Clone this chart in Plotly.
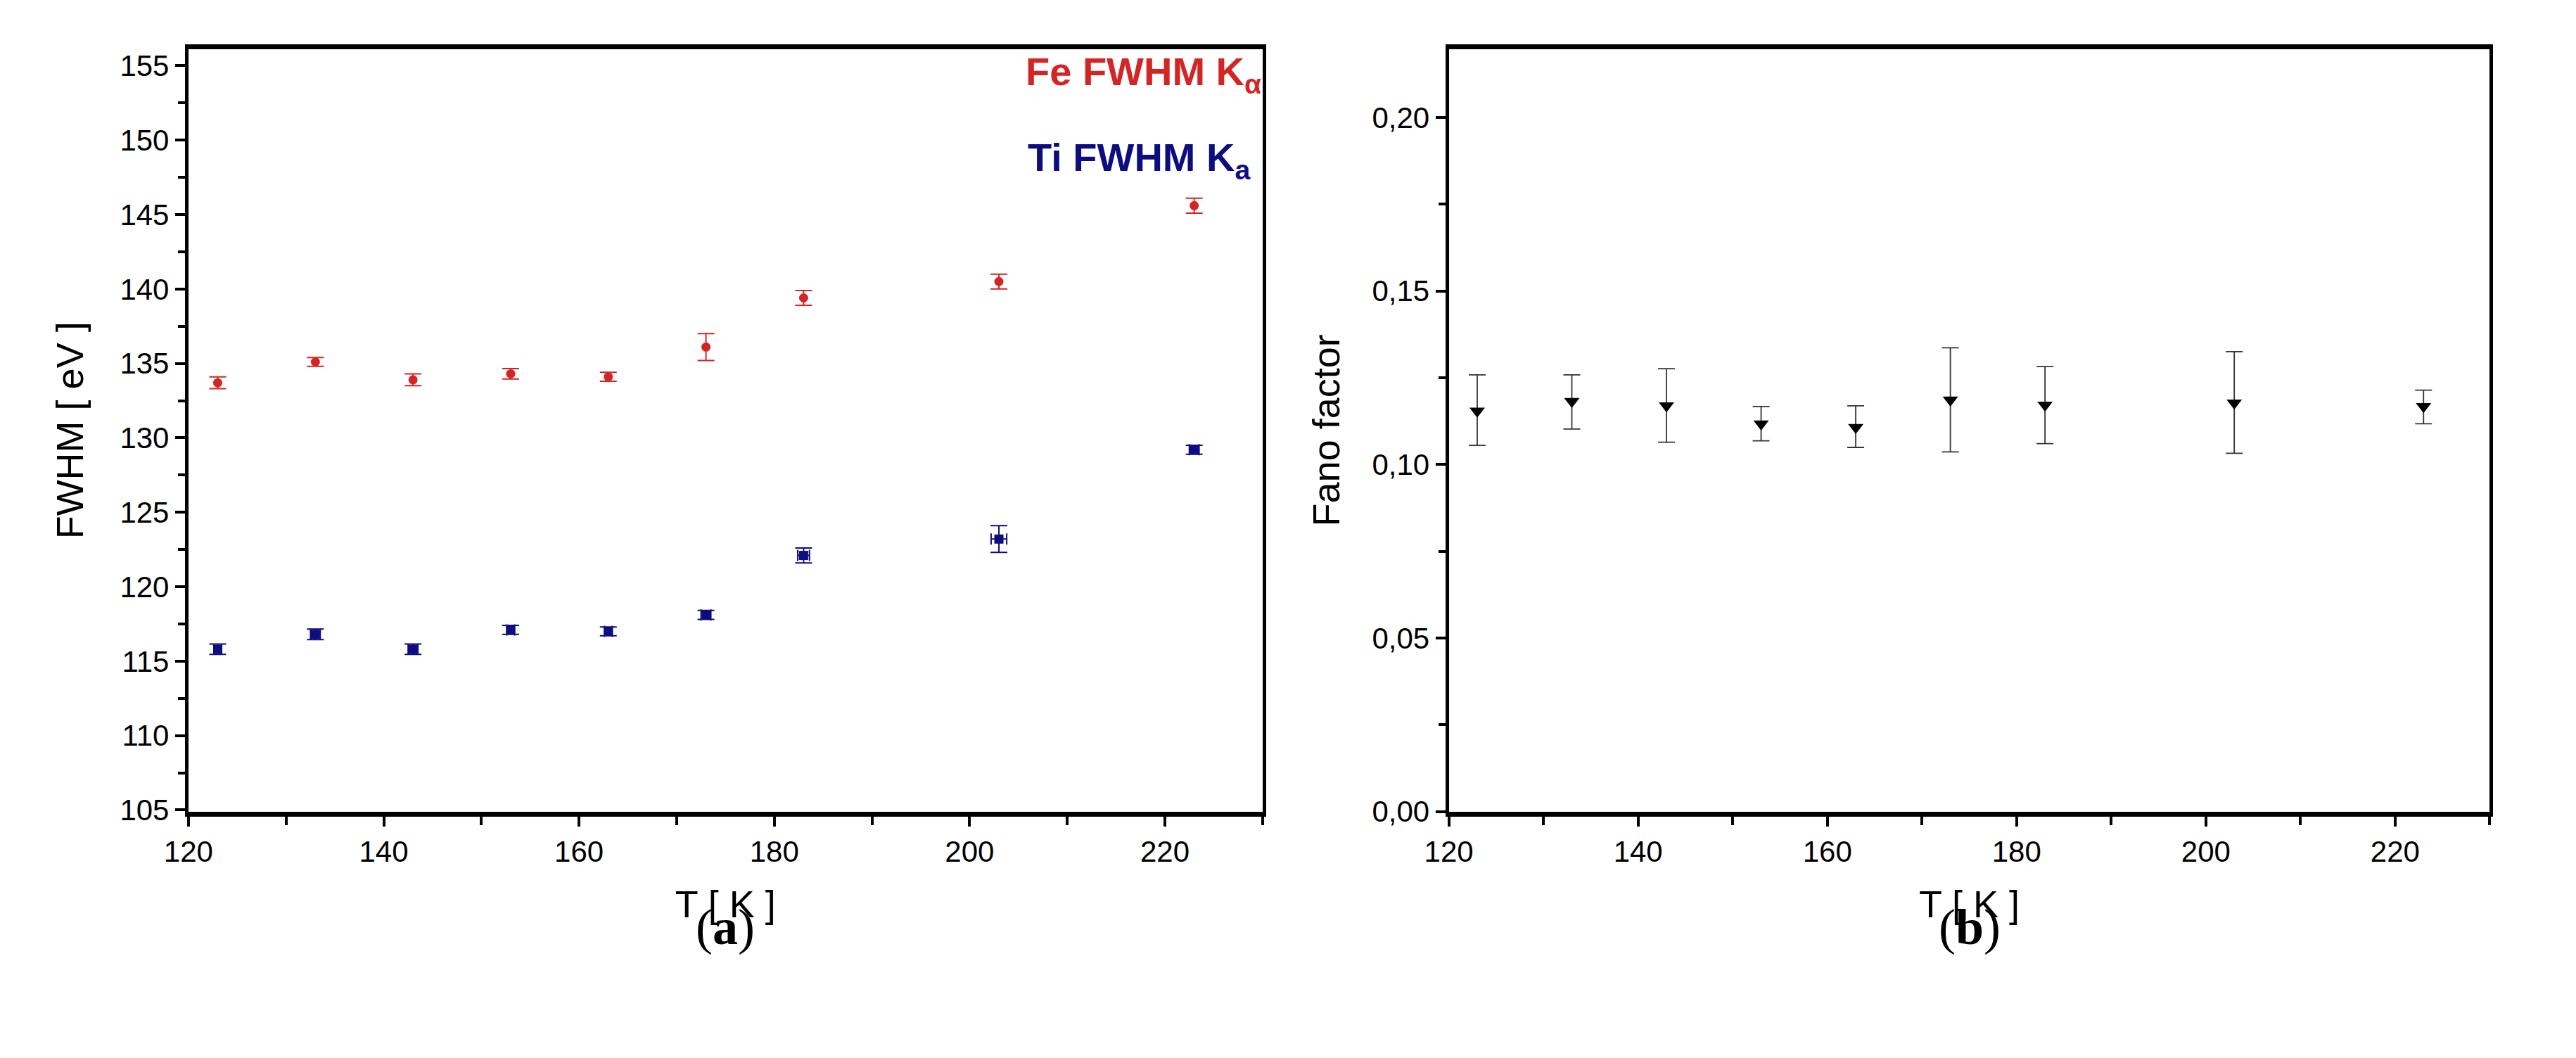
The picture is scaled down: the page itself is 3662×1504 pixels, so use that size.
import plotly.graph_objects as go
from plotly.subplots import make_subplots

# temperatures [K]
temp = [123, 133, 143, 153, 163, 173, 183, 203, 223]

# (a) FWHM values [eV]
fe_fwhm = [133.7, 135.1, 133.9, 134.3, 134.1, 136.1, 139.4, 140.5, 145.6]
fe_err = [0.4, 0.3, 0.4, 0.35, 0.3, 0.9, 0.5, 0.5, 0.5]
ti_fwhm = [115.8, 116.8, 115.8, 117.1, 117.0, 118.1, 122.1, 123.2, 129.2]
ti_err = [0.35, 0.35, 0.35, 0.3, 0.3, 0.3, 0.5, 0.9, 0.3]
ti_xerr = [0.4, 0.5, 0.5, 0.4, 0.4, 0.5, 0.6, 0.8, 0.5]

# (b) Fano factor
fano = [0.1154, 0.1182, 0.1169, 0.1117, 0.1107, 0.1186, 0.1171, 0.1177, 0.1167]
fano_hi = [0.1258, 0.1258, 0.1276, 0.1167, 0.1169, 0.1336, 0.1282, 0.1325, 0.1214]
fano_lo = [0.1055, 0.1102, 0.1064, 0.1068, 0.1049, 0.1036, 0.1060, 0.1032, 0.1117]

fe_color = '#d42525'
ti_color = '#0d0d80'
font_name = 'Liberation Sans, Arial, sans-serif'

fig = make_subplots(rows=1, cols=2)

fig.add_trace(go.Scatter(
    x=temp, y=fe_fwhm, mode='markers',
    marker=dict(color=fe_color, size=13, symbol='circle'),
    error_y=dict(type='data', array=fe_err, color=fe_color, thickness=2, width=12),
    showlegend=False), row=1, col=1)

fig.add_trace(go.Scatter(
    x=temp, y=ti_fwhm, mode='markers',
    marker=dict(color=ti_color, size=13, symbol='square'),
    error_y=dict(type='data', array=ti_err, color=ti_color, thickness=2, width=12),
    error_x=dict(type='data', array=ti_xerr, color=ti_color, thickness=2, width=8),
    showlegend=False), row=1, col=1)

fig.add_trace(go.Scatter(
    x=temp, y=fano, mode='markers',
    marker=dict(color='black', size=19, symbol='triangle-down'),
    error_y=dict(type='data', symmetric=False,
                 array=[h - v for h, v in zip(fano_hi, fano)],
                 arrayminus=[v - l for v, l in zip(fano, fano_lo)],
                 color='#333333', thickness=1.8, width=12),
    showlegend=False), row=1, col=2)

axis_style = dict(
    showline=True, linecolor='black', linewidth=5, mirror=True,
    ticks='outside', ticklen=14, tickwidth=4, tickcolor='black',
    showgrid=False, zeroline=False,
    tickfont=dict(family=font_name, size=42, color='black'),
    title_font=dict(family=font_name, size=54, color='black'),
)

fig.update_xaxes(axis_style)
fig.update_yaxes(axis_style)
fig.update_xaxes(linewidth=7)

fig.update_xaxes(domain=[0.062, 0.483], range=[120, 230], dtick=20,
                 minor=dict(dtick=10, ticks='outside', ticklen=12, tickwidth=4, tickcolor='black'),
                 title_text='T [ K ]', title_standoff=36, row=1, col=1)
fig.update_xaxes(domain=[0.556, 0.964], range=[120, 230], dtick=20,
                 minor=dict(dtick=10, ticks='outside', ticklen=12, tickwidth=4, tickcolor='black'),
                 title_text='T [ K ]', title_standoff=36, row=1, col=2)
fig.update_yaxes(domain=[0.226, 0.958], range=[104.9, 156.1], dtick=5,
                 minor=dict(dtick=2.5, ticks='outside', ticklen=10, tickwidth=4, tickcolor='black'),
                 title_text='FWHM [ eV ]', title_standoff=36, row=1, col=1)
fig.update_yaxes(domain=[0.226, 0.958], range=[0, 0.2196], dtick=0.05, tickformat='.2f',
                 minor=dict(dtick=0.025, ticks='outside', ticklen=10, tickwidth=4, tickcolor='black'),
                 title_text='Fano factor', title_standoff=30, row=1, col=2)

annotations = [
    dict(text='<b>Fe FWHM K<sub>α</sub></b>', x=0.483, y=0.934, xanchor='right', yanchor='middle',
         font=dict(family=font_name, size=56, color=fe_color)),
    dict(text='<b>Ti FWHM K<sub>a</sub></b>', x=0.479, y=0.852, xanchor='right', yanchor='middle',
         font=dict(family=font_name, size=56, color=ti_color)),
    dict(text='(<b>a</b>)', x=0.2725, y=0.115, xanchor='center', yanchor='middle',
         font=dict(family='Liberation Serif, serif', size=72, color='black')),
    dict(text='(<b>b</b>)', x=0.76, y=0.115, xanchor='center', yanchor='middle',
         font=dict(family='Liberation Serif, serif', size=72, color='black')),
]
for a in annotations:
    a.update(xref='paper', yref='paper', showarrow=False)

fig.update_layout(
    width=3662, height=1504,
    margin=dict(l=0, r=0, t=0, b=0),
    paper_bgcolor='white', plot_bgcolor='white',
    separators=', ',
    annotations=annotations,
)

fig.write_html("out.html")
